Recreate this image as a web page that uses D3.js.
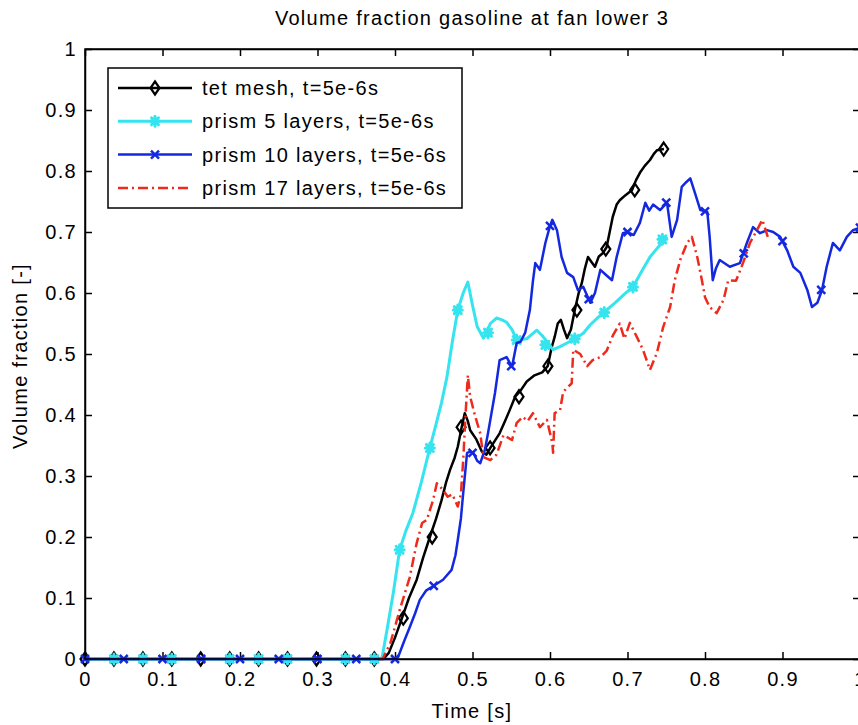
<!DOCTYPE html>
<html>
<head>
<meta charset="utf-8">
<script src="https://cdn.jsdelivr.net/npm/d3@7"></script>
<style>
  body { margin: 0; background: #fff; }
  text { font-family: "Liberation Sans", Arial, sans-serif; font-size: 20px; letter-spacing: 1.3px; fill: #000; }
</style>
</head>
<body>
<svg></svg>
<script>
const width = 858;
const height = 725;

// Series data: [time s, volume fraction]
const tetMesh = [[0,0],[0.385,0],[0.392,0.01],[0.4,0.035],[0.409,0.067],[0.418,0.1],[0.428,0.13],[0.436,0.165],
  [0.445,0.2],[0.453,0.23],[0.46,0.26],[0.466,0.29],[0.471,0.31],[0.477,0.33],[0.481,0.348],[0.486,0.38],
  [0.49,0.403],[0.494,0.39],[0.497,0.375],[0.505,0.36],[0.512,0.34],[0.518,0.335],[0.523,0.346],[0.53,0.36],
  [0.535,0.37],[0.542,0.39],[0.548,0.408],[0.555,0.43],[0.562,0.44],[0.57,0.455],[0.58,0.465],[0.59,0.47],
  [0.597,0.48],[0.602,0.51],[0.606,0.528],[0.61,0.55],[0.614,0.556],[0.618,0.54],[0.622,0.526],[0.627,0.54],
  [0.632,0.572],[0.637,0.6],[0.641,0.616],[0.645,0.64],[0.649,0.659],[0.654,0.65],[0.658,0.643],[0.663,0.66],
  [0.668,0.665],[0.673,0.675],[0.677,0.7],[0.681,0.725],[0.686,0.745],[0.69,0.752],[0.697,0.76],[0.706,0.769],
  [0.711,0.785],[0.716,0.797],[0.722,0.808],[0.729,0.818],[0.734,0.828],[0.738,0.834],[0.747,0.836]];

const prism5 = [[0,0],[0.383,0],[0.39,0.05],[0.398,0.11],[0.406,0.179],[0.414,0.21],[0.423,0.239],[0.434,0.29],
  [0.445,0.346],[0.452,0.38],[0.46,0.42],[0.467,0.462],[0.474,0.52],[0.481,0.572],[0.488,0.6],[0.494,0.618],
  [0.5,0.58],[0.506,0.545],[0.514,0.526],[0.518,0.535],[0.523,0.55],[0.531,0.559],[0.538,0.556],[0.544,0.552],
  [0.551,0.54],[0.557,0.523],[0.57,0.525],[0.583,0.539],[0.59,0.53],[0.604,0.507],[0.613,0.512],[0.622,0.518],
  [0.632,0.525],[0.643,0.534],[0.652,0.548],[0.662,0.56],[0.673,0.572],[0.685,0.585],[0.696,0.598],[0.707,0.61],
  [0.718,0.635],[0.729,0.659],[0.74,0.676],[0.751,0.692]];

const prism10 = [[0,0],[0.397,0],[0.404,0.003],[0.412,0.03],[0.419,0.052],[0.426,0.075],[0.432,0.097],[0.44,0.112],
  [0.45,0.12],[0.462,0.13],[0.473,0.146],[0.478,0.17],[0.481,0.195],[0.485,0.23],[0.488,0.272],[0.493,0.338],
  [0.497,0.34],[0.501,0.338],[0.506,0.325],[0.51,0.321],[0.516,0.343],[0.52,0.37],[0.523,0.392],[0.529,0.436],
  [0.535,0.49],[0.544,0.495],[0.551,0.479],[0.557,0.518],[0.562,0.52],[0.568,0.535],[0.574,0.572],[0.578,0.62],
  [0.581,0.649],[0.587,0.638],[0.594,0.682],[0.6,0.71],[0.603,0.72],[0.609,0.703],[0.615,0.659],[0.622,0.633],
  [0.63,0.626],[0.636,0.605],[0.643,0.61],[0.652,0.584],[0.658,0.6],[0.665,0.638],[0.672,0.63],[0.68,0.621],
  [0.686,0.659],[0.694,0.698],[0.7,0.7],[0.708,0.695],[0.716,0.715],[0.723,0.748],[0.728,0.735],[0.733,0.745],
  [0.742,0.736],[0.751,0.748],[0.757,0.692],[0.764,0.72],[0.77,0.774],[0.776,0.782],[0.781,0.788],[0.787,0.764],
  [0.794,0.736],[0.803,0.733],[0.806,0.692],[0.81,0.621],[0.814,0.64],[0.819,0.654],[0.832,0.643],[0.845,0.649],
  [0.854,0.682],[0.862,0.708],[0.871,0.698],[0.88,0.703],[0.888,0.7],[0.897,0.692],[0.906,0.67],[0.914,0.643],
  [0.923,0.633],[0.932,0.605],[0.938,0.577],[0.945,0.584],[0.951,0.605],[0.957,0.643],[0.965,0.682],[0.974,0.67],
  [0.983,0.692],[0.991,0.703],[1.0,0.707]];

const prism17 = [[0.38,0],[0.384,0],[0.394,0.026],[0.406,0.08],[0.419,0.134],[0.428,0.19],[0.435,0.223],[0.441,0.228],
  [0.449,0.26],[0.454,0.288],[0.462,0.277],[0.468,0.266],[0.474,0.27],[0.481,0.25],[0.485,0.27],[0.488,0.326],
  [0.491,0.4],[0.494,0.465],[0.497,0.43],[0.503,0.4],[0.51,0.37],[0.514,0.331],[0.523,0.326],[0.531,0.335],
  [0.54,0.367],[0.551,0.359],[0.557,0.387],[0.565,0.397],[0.571,0.39],[0.578,0.403],[0.587,0.38],[0.596,0.392],
  [0.603,0.354],[0.604,0.338],[0.606,0.403],[0.613,0.408],[0.617,0.438],[0.628,0.452],[0.63,0.507],[0.639,0.5],
  [0.648,0.48],[0.655,0.49],[0.665,0.495],[0.673,0.505],[0.681,0.53],[0.69,0.55],[0.696,0.525],[0.703,0.551],
  [0.712,0.528],[0.72,0.507],[0.729,0.474],[0.738,0.502],[0.746,0.544],[0.755,0.577],[0.761,0.621],[0.768,0.654],
  [0.777,0.682],[0.783,0.692],[0.79,0.659],[0.796,0.621],[0.8,0.593],[0.806,0.577],[0.815,0.567],[0.824,0.589],
  [0.83,0.621],[0.84,0.62],[0.849,0.649],[0.858,0.682],[0.865,0.698],[0.874,0.72],[0.881,0.692]];

// Marker positions
const tetMarks = [[0,0],[0.0373,0],[0.0747,0],[0.112,0],[0.1493,0],[0.1867,0],[0.224,0],[0.2613,0],[0.2987,0],
  [0.336,0],[0.3733,0],[0.4107,0.067],[0.448,0.2],[0.4853,0.38],[0.5227,0.346],[0.56,0.43],[0.5973,0.48],
  [0.6347,0.572],[0.672,0.672],[0.7093,0.769],[0.7467,0.836]];
const prism5Marks = [[0.0373,0],[0.0747,0],[0.112,0],[0.1867,0],[0.224,0],[0.2613,0],[0.336,0],[0.3733,0],
  [0.406,0.179],[0.445,0.346],[0.481,0.572],[0.52,0.535],[0.557,0.523],[0.594,0.515],[0.632,0.525],[0.67,0.568],
  [0.707,0.61],[0.745,0.688]];
const prism10Marks = [[0,0],[0.05,0],[0.1,0],[0.15,0],[0.2,0],[0.25,0],[0.3,0],[0.35,0],[0.4,0],[0.45,0.12],
  [0.5,0.338],[0.55,0.48],[0.6,0.71],[0.65,0.59],[0.7,0.7],[0.75,0.748],[0.8,0.734],[0.85,0.665],[0.9,0.685],
  [0.95,0.605],[1.0,0.707]];

const legendLabels = ["tet mesh, t=5e-6s", "prism 5 layers, t=5e-6s", "prism 10 layers, t=5e-6s", "prism 17 layers, t=5e-6s"];
const tickValues = [0, 0.1, 0.2, 0.3, 0.4, 0.5, 0.6, 0.7, 0.8, 0.9, 1];
const tickLabels = ["0", "0.1", "0.2", "0.3", "0.4", "0.5", "0.6", "0.7", "0.8", "0.9", "1"];

const series = [
  { data: tetMesh, marks: tetMarks, color: "#000000", width: 2.5, dash: null, marker: "diamond" },
  { data: prism5, marks: prism5Marks, color: "#35e4ee", width: 3, dash: null, marker: "star" },
  { data: prism10, marks: prism10Marks, color: "#1428e0", width: 2.5, dash: null, marker: "cross" },
  { data: prism17, marks: [], color: "#ee2a1c", width: 2.5, dash: "10,4,2,4", marker: null }
];

const svg = d3.select("svg").attr("width", width).attr("height", height);
svg.append("rect").attr("width", width).attr("height", height).attr("fill", "#fff");

const x = d3.scaleLinear().domain([0, 1]).range([85, 860]);
const y = d3.scaleLinear().domain([0, 1]).range([659, 49]);

// axes (MATLAB style, ticks pointing inward)
const fmt = (d, i) => tickLabels[i];
const axB = svg.append("g").attr("transform", `translate(0,${y(0)})`)
  .call(d3.axisBottom(x).tickValues(tickValues).tickFormat(fmt).tickSizeInner(-7).tickSizeOuter(0).tickPadding(10));
const axL = svg.append("g").attr("transform", `translate(${x(0)},0)`)
  .call(d3.axisLeft(y).tickValues(tickValues).tickFormat(fmt).tickSizeInner(-7).tickSizeOuter(0).tickPadding(8));
const axT = svg.append("g").attr("transform", `translate(0,${y(1)})`)
  .call(d3.axisTop(x).tickValues(tickValues).tickFormat("").tickSizeInner(-7).tickSizeOuter(0));
const axR = svg.append("g").attr("transform", `translate(${x(1)},0)`)
  .call(d3.axisRight(y).tickValues(tickValues).tickFormat("").tickSizeInner(-7).tickSizeOuter(0));

[axB, axL, axT, axR].forEach(g => {
  g.attr("font-size", null).attr("font-family", null);
  g.selectAll("line").attr("stroke", "#000").attr("stroke-width", 1.5);
  g.select(".domain").attr("stroke", "#000").attr("stroke-width", 1.5);
  g.selectAll("text").attr("fill", "#000");
});
axB.selectAll("text").attr("dy", "0.85em");

const line = d3.line().x(d => x(d[0])).y(d => y(d[1]));

function drawMarker(g, type, color) {
  if (type === "diamond") {
    g.append("path").attr("d", "M0,-6.5L4.5,0L0,6.5L-4.5,0Z")
      .attr("fill", "none").attr("stroke", color).attr("stroke-width", 2.2);
  } else if (type === "star") {
    g.append("path").attr("d", "M0,-5V5M-4.5,0H4.5M-3.5,-3.5L3.5,3.5M-3.5,3.5L3.5,-3.5")
      .attr("stroke", color).attr("stroke-width", 3).attr("stroke-linecap", "round");
  } else if (type === "cross") {
    g.append("path").attr("d", "M-4,-4L4,4M-4,4L4,-4")
      .attr("stroke", color).attr("stroke-width", 2.5);
  }
}

const plot = svg.append("g");
series.forEach(s => {
  plot.append("path").datum(s.data)
    .attr("d", line)
    .attr("fill", "none")
    .attr("stroke", s.color)
    .attr("stroke-width", s.width)
    .attr("stroke-linejoin", "round")
    .attr("stroke-dasharray", s.dash);
  s.marks.forEach(m => {
    const g = plot.append("g").attr("transform", `translate(${x(m[0])},${y(m[1])})`);
    drawMarker(g, s.marker, s.color);
  });
});

// frame on top
svg.append("rect")
  .attr("x", x(0)).attr("y", y(1))
  .attr("width", x(1) - x(0)).attr("height", y(0) - y(1))
  .attr("fill", "none").attr("stroke", "#000").attr("stroke-width", 1.5);

// legend
const legend = svg.append("g").attr("transform", "translate(108,68)");
legend.append("rect").attr("width", 354).attr("height", 140)
  .attr("fill", "#fff").attr("stroke", "#000").attr("stroke-width", 1.5);
series.forEach((s, i) => {
  const ly = 20 + i * 33.3;
  legend.append("line").attr("x1", 10).attr("x2", 84).attr("y1", ly).attr("y2", ly)
    .attr("stroke", s.color).attr("stroke-width", s.width).attr("stroke-dasharray", s.dash);
  if (s.marker) drawMarker(legend.append("g").attr("transform", `translate(47,${ly})`), s.marker, s.color);
  legend.append("text").attr("x", 94).attr("y", ly).attr("dy", "0.35em").text(legendLabels[i]);
});

// titles
svg.append("text").attr("x", 472).attr("y", 25).attr("text-anchor", "middle")
  .text("Volume fraction gasoline at fan lower 3");
svg.append("text").attr("x", 472).attr("y", 718).attr("text-anchor", "middle").text("Time [s]");
svg.append("text").attr("transform", "translate(27,356) rotate(-90)").attr("text-anchor", "middle")
  .text("Volume fraction [-]");
</script>
</body>
</html>
